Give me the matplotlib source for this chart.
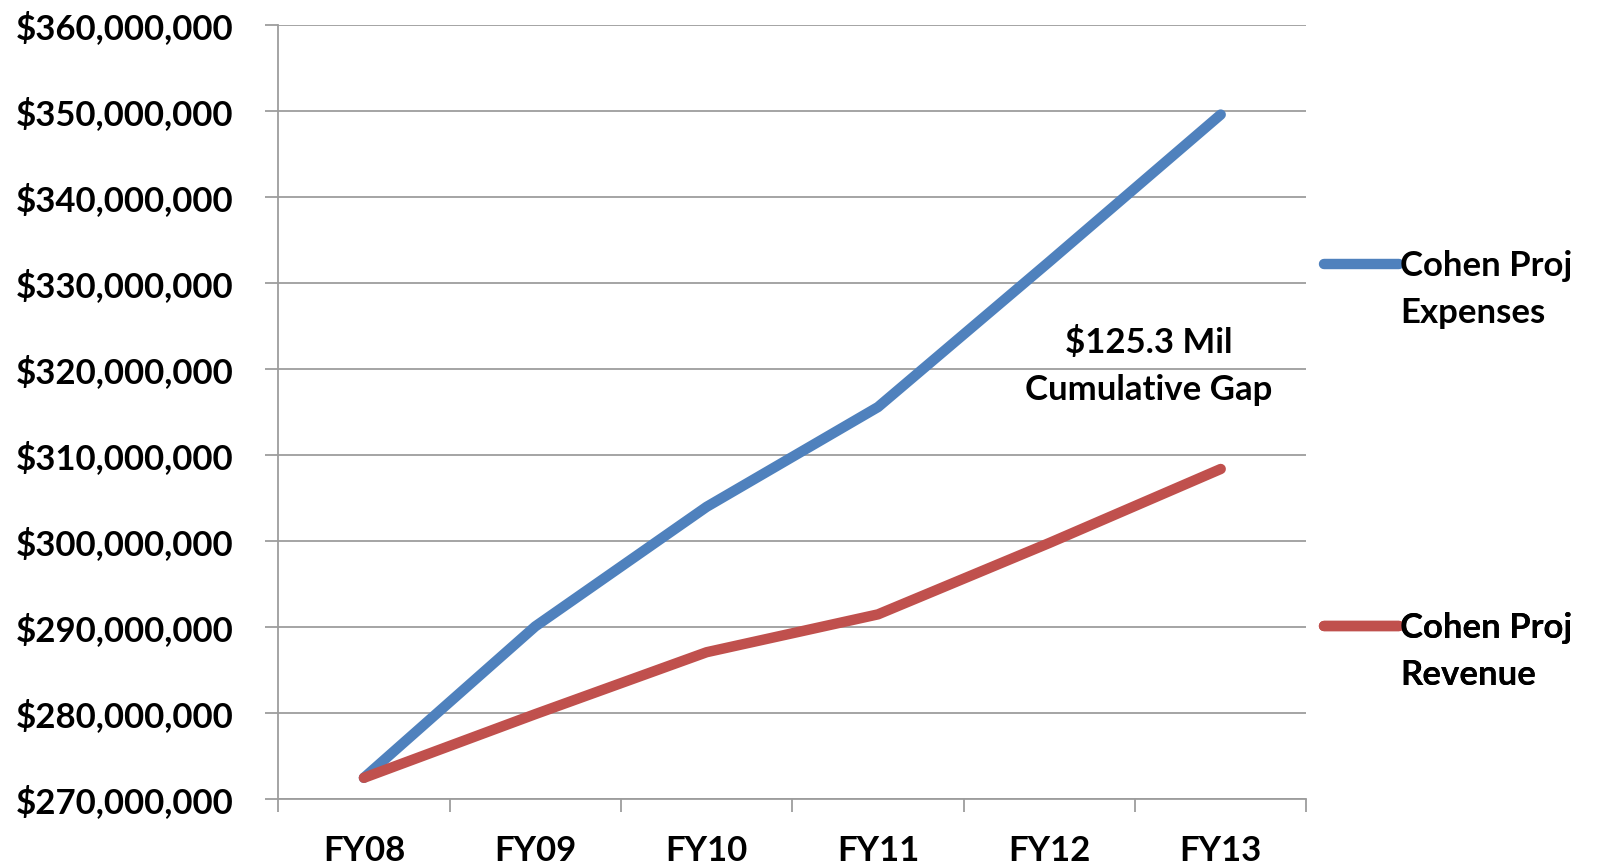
"""Cohen projected expenses vs revenue, FY08-FY13, with the cumulative gap note."""
import matplotlib
matplotlib.use("Agg")
import matplotlib.pyplot as plt
from matplotlib.ticker import FixedLocator, FuncFormatter, NullFormatter

YEARS = ["FY08", "FY09", "FY10", "FY11", "FY12", "FY13"]
EXPENSES = [272.5e6, 290.1e6, 304.0e6, 315.6e6, 332.5e6, 349.6e6]
REVENUE = [272.5e6, 279.9e6, 287.1e6, 291.5e6, 299.8e6, 308.4e6]
LABELS = ["Cohen Proj\nExpenses", "Cohen Proj\nRevenue"]
GAP_NOTE = "$125.3 Mil\nCumulative Gap"

COLOUR_EXP = "#4F81BD"
COLOUR_REV = "#C0504D"
GRID = "#9d9d9d"
FONT = ["Lato", "DejaVu Sans"]
FS = 25
LINESPACING = 1.58

plt.rcParams["font.family"] = FONT


def main():
    fig = plt.figure(figsize=(15.99, 8.66), dpi=100)
    ax = fig.add_axes([0.174, 0.077, 0.643, 0.894])

    x = list(range(len(YEARS)))
    l_exp, = ax.plot(x, EXPENSES, color=COLOUR_EXP, lw=7.5,
                     solid_capstyle="round", solid_joinstyle="round", zorder=3)
    l_rev, = ax.plot(x, REVENUE, color=COLOUR_REV, lw=7.5,
                     solid_capstyle="round", solid_joinstyle="round", zorder=4)

    ax.set_xlim(-0.5, len(YEARS) - 0.5)
    ax.set_ylim(270e6, 360e6)
    ax.yaxis.set_major_locator(FixedLocator([270e6 + 10e6 * i for i in range(10)]))
    ax.yaxis.set_major_formatter(FuncFormatter(lambda v, _: f"${v:,.0f}"))

    # Excel-style category axis: ticks between categories, labels at centres
    ax.xaxis.set_major_locator(FixedLocator([i - 0.5 for i in range(len(YEARS) + 1)]))
    ax.xaxis.set_major_formatter(NullFormatter())
    ax.xaxis.set_minor_locator(FixedLocator(x))
    ax.set_xticklabels(YEARS, minor=True)
    ax.tick_params(axis="x", which="minor", length=0, pad=26)
    ax.tick_params(axis="x", which="major", length=9.5, width=1.3, color=GRID)
    ax.tick_params(axis="y", length=9.5, width=1.3, color=GRID, pad=23)
    for lab in ax.get_xticklabels(minor=True) + ax.get_yticklabels():
        lab.set_fontsize(FS)
        lab.set_fontweight("bold")

    ax.grid(axis="y", color=GRID, lw=1.3)
    ax.set_axisbelow(True)
    for side in ("top", "right"):
        ax.spines[side].set_visible(False)
    for side in ("left", "bottom"):
        ax.spines[side].set_color(GRID)
        ax.spines[side].set_linewidth(1.3)

    ax.text(4.58, 320.4e6, GAP_NOTE, ha="center", va="center", fontsize=FS,
            fontweight="bold", linespacing=LINESPACING)

    legends = []
    for line, label, yanchor in ((l_exp, LABELS[0], 0.7095), (l_rev, LABELS[1], 0.242)):
        leg = ax.legend([line], [label], loc="upper left", bbox_to_anchor=(1.017, yanchor),
                        frameon=False, handlelength=2.15, handletextpad=0.05, borderpad=0,
                        borderaxespad=0, prop={"size": FS, "weight": "bold"})
        for t in leg.get_texts():
            t.set_linespacing(LINESPACING)
        legends.append(leg)
        ax.add_artist(leg)

    fig.canvas.draw()
    # Excel puts the legend key level with the first label line, not the middle
    for leg in legends:
        for hl in leg.get_lines():
            yd = hl.get_ydata()
            hl.set_ydata([v + 19.1 for v in yd])
            hl.set_solid_capstyle("round")
            hl.set_linewidth(7.5)

    fig.savefig("out.png", dpi=100)


if __name__ == "__main__":
    main()
